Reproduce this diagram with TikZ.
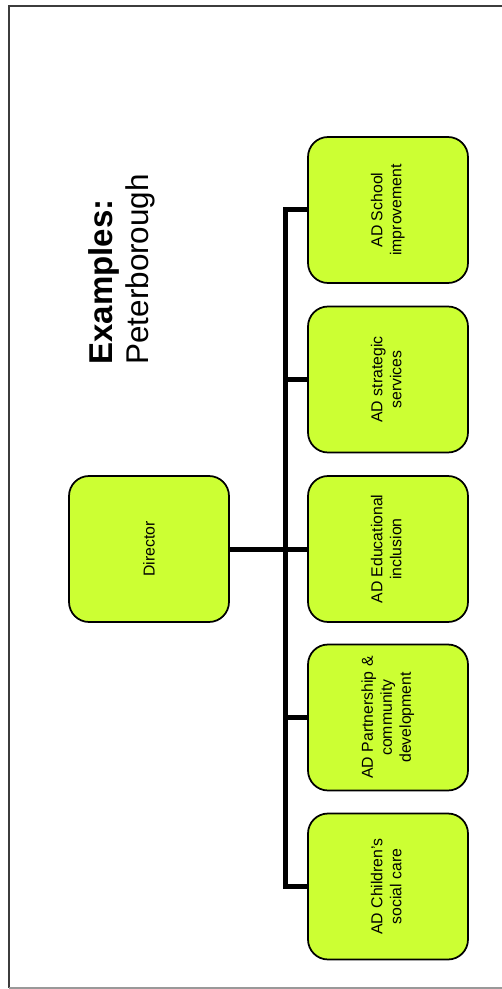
\documentclass[tikz,border=0pt]{standalone}
\usepackage{fontspec}
\setmainfont{Liberation Sans}
\definecolor{boxfill}{RGB}{204,255,51}
\definecolor{framegray}{RGB}{60,60,60}
\begin{document}
\begin{tikzpicture}[x=0.02cm,y=-0.02cm,
  box/.style={draw=black,line width=0.035cm,fill=boxfill,rounded corners=0.4cm,
    minimum width=3.2cm,minimum height=2.92cm,inner sep=0pt,
    font=\fontsize{9}{10.8}\selectfont},
  conn/.style={line width=0.1cm,line join=miter},
  title/.style={rotate=90,anchor=north west,inner sep=0pt,align=left,
    font=\fontsize{18.8}{20.4}\selectfont}]
  \useasboundingbox (0,0) rectangle (502,989);

  % page frame (open on the right)
  \draw[framegray,line width=0.035cm] (510,6) -- (9,6) -- (9,988);
  \draw[gray!80,line width=0.025cm] (9,988) -- (510,988);

  % heading
  \node[title] (heading) at (88,365) {\textbf{Examples:}\\\fontsize{17.9}{20.4}\selectfont Peterborough};

  % director
  \node[box] (dir) at (149,549) {\rotatebox{90}{Director}};

  % assistant directors
  \node[box] (s1) at (388,210)   {\rotatebox{90}{\begin{tabular}{@{}c@{}}AD School\\improvement\end{tabular}}};
  \node[box] (s2) at (388,379.5) {\rotatebox{90}{\begin{tabular}{@{}c@{}}AD strategic\\services\end{tabular}}};
  \node[box] (s3) at (388,549)   {\rotatebox{90}{\begin{tabular}{@{}c@{}}AD Educational\\inclusion\end{tabular}}};
  \node[box] (s4) at (388,717.5) {\rotatebox{90}{\begin{tabular}{@{}c@{}}AD Partnership \&\\community\\development\end{tabular}}};
  \node[box] (s5) at (388,886.5) {\rotatebox{90}{\begin{tabular}{@{}c@{}}AD Children’s\\social care\end{tabular}}};

  % connectors
  \coordinate (trunk) at (285,210);
  \draw[conn] (s1.west) -- (s1.west -| trunk) -- (s5.west -| trunk) -- (s5.west);
  \draw[conn] (s2.west) -- (s2.west -| trunk);
  \draw[conn] (s3.west) -- (s3.west -| trunk);
  \draw[conn] (s4.west) -- (s4.west -| trunk);
  \draw[conn] (dir.east) -- (dir.east -| trunk);
\end{tikzpicture}
\end{document}
